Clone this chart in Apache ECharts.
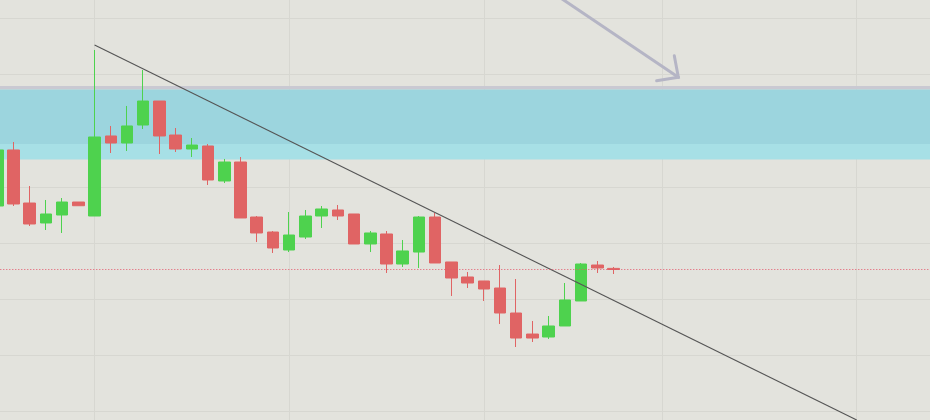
<!DOCTYPE html>
<html>
<head>
<meta charset="utf-8">
<script src="https://cdn.jsdelivr.net/npm/echarts@6/dist/echarts.min.js"></script>
<style>
html,body{margin:0;padding:0;background:#e3e3dd;}
#chart{width:930px;height:420px;}
</style>
</head>
<body>
<div id="chart"></div>
<script>
// Category slots (candles + empty space to the right)
var categories = ['1','2','3','4','5','6','7','8','9','10','11','12','13','14','15','16','17','18','19','20',
  '21','22','23','24','25','26','27','28','29','30','31','32','33','34','35','36','37','38','39','40',
  '41','42','43','44','45','46','47','48','49','50','51','52','53','54','55','56','57','58','59'];
// Slots where a vertical grid line is drawn
var gridSlots = [6, 18, 30, 41, 53];
// OHLC rows: [open, close, low, high]
var ohlc = [
  [136.60,146.57,136.25,147.28],
  [146.57,136.96,136.60,147.99],
  [137.13,133.40,133.04,140.16],
  [133.58,135.18,132.33,137.67],
  [135.00,137.31,131.80,138.02],
  [137.31,136.65,136.65,137.31],
  [134.82,148.88,134.82,164.36],
  [149.06,147.81,146.03,150.84],
  [147.81,150.84,146.39,154.40],
  [151.01,155.28,150.30,160.80],
  [155.28,149.06,145.85,155.28],
  [149.23,146.74,146.21,150.48],
  [146.74,147.45,145.32,148.70],
  [147.28,141.23,140.34,147.63],
  [141.05,144.43,140.69,144.97],
  [144.43,134.47,134.47,145.32],
  [134.64,131.80,130.19,134.82],
  [131.97,129.13,128.24,132.15],
  [128.77,131.44,128.41,135.53],
  [131.08,134.82,130.73,135.89],
  [134.82,136.07,132.69,136.60],
  [135.89,134.82,134.11,136.78],
  [135.18,129.84,129.84,135.18],
  [129.84,131.80,128.41,132.15],
  [131.62,126.28,124.68,132.15],
  [126.28,128.60,125.75,130.55],
  [128.41,134.64,125.57,134.82],
  [134.64,126.46,126.46,135.36],
  [126.64,123.79,120.59,126.64],
  [123.97,122.90,122.01,124.86],
  [123.26,121.83,119.70,123.26],
  [122.01,117.56,115.60,126.10],
  [117.56,113.11,111.51,123.61],
  [113.82,113.11,112.40,116.14],
  [113.29,115.25,112.94,117.03],
  [115.25,119.88,115.25,122.90],
  [119.70,126.28,119.70,126.46],
  [126.10,125.57,124.68,126.81],
  [125.50,125.30,124.50,125.75]
];
var lastPrice = 125.30;
// Horizontal zone: [from, to] price bands
var zoneEdge = [157.95, 157.33];
var zoneUpper = [157.33, 147.63];
var zoneLower = [147.63, 144.88];
// Trend line points [slot, price]
var trendLine = [[6, 165.25], [53, 98.52]];
// Arrow annotation [slot, price]
var arrowShaft = [[33, 177.0], [42, 159.5]];
var arrowHead = [[41.75, 163.35], [42, 159.5], [40.66, 158.9]];
// Price axis
var priceMin = 90, priceMax = 180, priceStep = 10;

var chart = echarts.init(document.getElementById('chart'), null, {renderer: 'canvas'});
var gridColor = '#d7d7d1';
chart.setOption({
  backgroundColor: '#e3e3dd',
  animation: false,
  grid: {left: -2.7, right: -7.8, top: -37.9, bottom: -47.9, containLabel: false, outerBoundsMode: 'none'},
  xAxis: [{
    type: 'category', data: categories, boundaryGap: false,
    axisLine: {show: false}, axisTick: {show: false}, axisLabel: {show: false},
    splitLine: {show: true, interval: function (i) { return gridSlots.indexOf(i) >= 0; },
      lineStyle: {color: gridColor, width: 1}}
  }, {
    type: 'value', min: 0, max: categories.length - 1, show: false,
    splitLine: {show: false}
  }],
  yAxis: {
    type: 'value', min: priceMin, max: priceMax, interval: priceStep,
    axisLine: {show: false}, axisTick: {show: false}, axisLabel: {show: false},
    splitLine: {show: true, lineStyle: {color: gridColor, width: 1}}
  },
  series: [{
    type: 'candlestick',
    data: ohlc,
    barWidth: 12,
    clip: false,
    itemStyle: {
      color: '#4ed24e', color0: '#e06464',
      borderColor: '#4ed24e', borderColor0: '#e06464', borderWidth: 1
    },
    markArea: {
      silent: true,
      data: [
        [{yAxis: zoneEdge[0], itemStyle: {color: '#c9c9d2'}}, {yAxis: zoneEdge[1]}],
        [{yAxis: zoneUpper[0], itemStyle: {color: '#9cd5de'}}, {yAxis: zoneUpper[1]}],
        [{yAxis: zoneLower[0], itemStyle: {color: '#a7e0e6'}}, {yAxis: zoneLower[1]}]
      ]
    },
    markLine: {
      silent: true, symbol: 'none', label: {show: false},
      lineStyle: {color: '#e4566a', type: [1, 2], width: 1},
      data: [{yAxis: lastPrice}]
    }
  }, {
    type: 'line', xAxisIndex: 1, data: trendLine, symbol: 'none', silent: true,
    lineStyle: {color: '#555555', width: 1.1}, z: 4
  }, {
    type: 'line', xAxisIndex: 1, data: arrowShaft, symbol: 'none', silent: true,
    lineStyle: {color: '#b5b5c5', width: 3, cap: 'round'}, z: 4
  }, {
    type: 'line', xAxisIndex: 1, data: arrowHead, symbol: 'none', silent: true,
    lineStyle: {color: '#b5b5c5', width: 3, cap: 'round', join: 'miter'}, z: 4
  }]
});
</script>
</body>
</html>
